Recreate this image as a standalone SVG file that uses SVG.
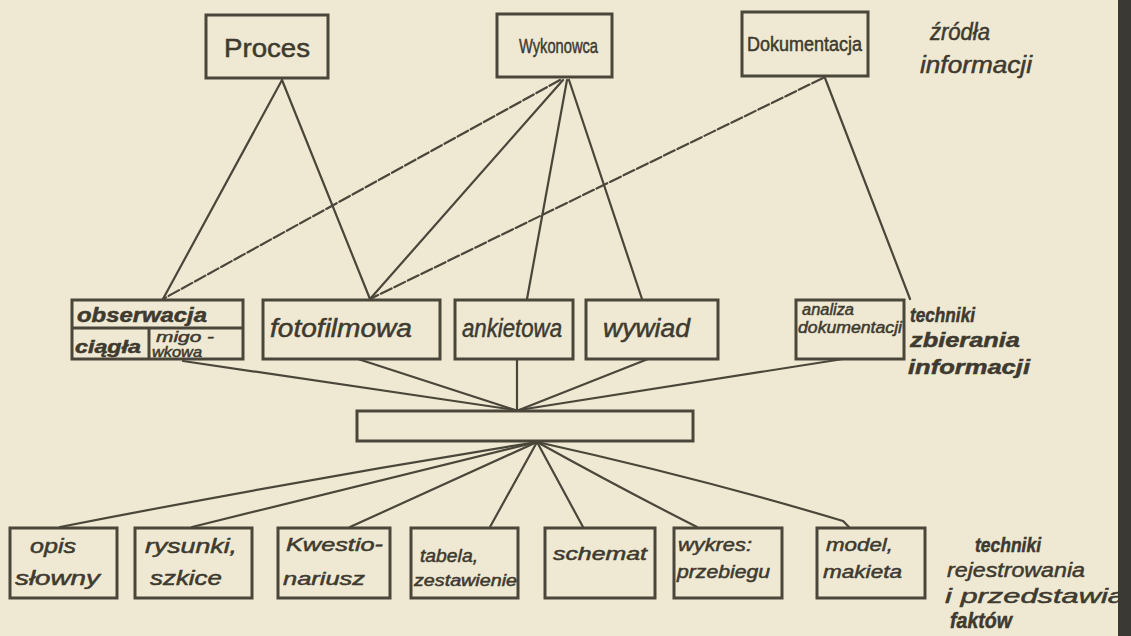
<svg xmlns="http://www.w3.org/2000/svg" width="1131" height="636" viewBox="0 0 1131 636">
<style>
.bg{fill:#efe9d3}
.box{fill:none;stroke:#4a463a;stroke-width:3}
.ln{fill:none;stroke:#4a463a;stroke-width:2.2;stroke-linecap:round}
.faint{stroke-dasharray:12 3}
text{font-family:"Liberation Sans","DejaVu Sans",sans-serif;fill:#3e3a2f;stroke:#3e3a2f;stroke-width:0.5}
.up{font-style:normal}
.it{font-style:italic}
</style>
<rect class="bg" x="0" y="0" width="1131" height="636"/>

<g id="connectors">
  <!-- top sources to collection techniques -->
  <line class="ln" x1="282" y1="80" x2="163" y2="299"/>
  <line class="ln" x1="282" y1="80" x2="370" y2="299"/>
  <line class="ln faint" x1="560" y1="80" x2="163" y2="299"/>
  <line class="ln" x1="563" y1="80" x2="370" y2="299"/>
  <line class="ln" x1="567" y1="80" x2="527" y2="299"/>
  <line class="ln" x1="569" y1="80" x2="642" y2="299"/>
  <line class="ln faint" x1="823" y1="78" x2="370" y2="299"/>
  <line class="ln" x1="825" y1="78" x2="910" y2="299"/>
  <!-- collection techniques to central box -->
  <line class="ln" x1="183" y1="361" x2="515" y2="410"/>
  <line class="ln" x1="358" y1="359" x2="515" y2="410"/>
  <line class="ln" x1="517" y1="359" x2="517" y2="410"/>
  <line class="ln" x1="648" y1="359" x2="519" y2="410"/>
  <line class="ln" x1="843" y1="359" x2="519" y2="410"/>
  <!-- central box to recording techniques -->
  <path class="ln" d="M537 442 Q300 480 60 527"/>
  <path class="ln" d="M537 442 Q360 485 192 527"/>
  <line class="ln" x1="537" y1="442" x2="350" y2="527"/>
  <line class="ln" x1="537" y1="442" x2="490" y2="527"/>
  <line class="ln" x1="537" y1="442" x2="583" y2="527"/>
  <path class="ln" d="M537 442 Q620 488 697 527"/>
  <path class="ln" d="M537 442 Q700 478 843 521 L849 527"/>
</g>

<g id="proces">
  <rect class="box" x="206" y="15" width="122" height="63"/>
  <text class="up" x="224" y="57" font-size="25" textLength="86" lengthAdjust="spacingAndGlyphs">Proces</text>
</g>
<g id="wykonowca">
  <rect class="box" x="497" y="14" width="115" height="63"/>
  <text class="up" x="519" y="53" font-size="21" textLength="79" lengthAdjust="spacingAndGlyphs">Wykonowca</text>
</g>
<g id="dokumentacja">
  <rect class="box" x="742" y="12" width="126" height="64"/>
  <text class="up" x="747" y="51" font-size="20" textLength="115" lengthAdjust="spacingAndGlyphs">Dokumentacja</text>
</g>
<g id="label-zrodla">
  <text class="it" x="930" y="40" font-size="23" textLength="60" lengthAdjust="spacingAndGlyphs">źródła</text>
  <text class="it" x="920" y="73" font-size="23" textLength="112" lengthAdjust="spacingAndGlyphs">informacji</text>
</g>

<g id="obserwacja">
  <rect class="box" x="72" y="300" width="171" height="59"/>
  <line class="box" x1="72" y1="328" x2="243" y2="328"/>
  <line class="box" x1="149" y1="328" x2="149" y2="359"/>
  <text class="it" x="77" y="322" font-size="20" font-weight="bold" textLength="130" lengthAdjust="spacingAndGlyphs">obserwacja</text>
  <text class="it" x="75" y="353" font-size="18" font-weight="bold" textLength="66" lengthAdjust="spacingAndGlyphs">ciągła</text>
  <text class="it" x="156" y="342" font-size="15" textLength="58" lengthAdjust="spacingAndGlyphs">migo -</text>
  <text class="it" x="152" y="357" font-size="14" textLength="50" lengthAdjust="spacingAndGlyphs">wkowa</text>
</g>
<g id="fotofilmowa">
  <rect class="box" x="263" y="300" width="177" height="59"/>
  <text class="it" x="270" y="337" font-size="25" textLength="142" lengthAdjust="spacingAndGlyphs">fotofilmowa</text>
</g>
<g id="ankietowa">
  <rect class="box" x="455" y="300" width="118" height="59"/>
  <text class="it" x="462" y="337" font-size="25" textLength="100" lengthAdjust="spacingAndGlyphs">ankietowa</text>
</g>
<g id="wywiad">
  <rect class="box" x="586" y="300" width="132" height="59"/>
  <text class="it" x="603" y="337" font-size="25" textLength="87" lengthAdjust="spacingAndGlyphs">wywiad</text>
</g>
<g id="analiza">
  <rect class="box" x="796" y="300" width="108" height="59"/>
  <text class="it" x="802" y="315" font-size="16" textLength="52" lengthAdjust="spacingAndGlyphs">analiza</text>
  <text class="it" x="798" y="333" font-size="16" textLength="104" lengthAdjust="spacingAndGlyphs">dokumentacji</text>
</g>
<g id="label-zbierania">
  <text class="it" x="910" y="322" font-size="21" font-weight="bold" textLength="65" lengthAdjust="spacingAndGlyphs">techniki</text>
  <text class="it" x="910" y="347" font-size="21" font-weight="bold" textLength="110" lengthAdjust="spacingAndGlyphs">zbierania</text>
  <text class="it" x="908" y="374" font-size="21" font-weight="bold" textLength="122" lengthAdjust="spacingAndGlyphs">informacji</text>
</g>

<g id="central">
  <rect class="box" x="357" y="411" width="336" height="30"/>
</g>

<g id="opis">
  <rect class="box" x="10" y="528" width="107" height="70"/>
  <text class="it" x="30" y="553" font-size="20" textLength="46" lengthAdjust="spacingAndGlyphs">opis</text>
  <text class="it" x="15" y="585" font-size="20" textLength="85" lengthAdjust="spacingAndGlyphs">słowny</text>
</g>
<g id="rysunki">
  <rect class="box" x="135" y="528" width="117" height="70"/>
  <text class="it" x="145" y="553" font-size="20" textLength="92" lengthAdjust="spacingAndGlyphs">rysunki,</text>
  <text class="it" x="150" y="585" font-size="20" textLength="72" lengthAdjust="spacingAndGlyphs">szkice</text>
</g>
<g id="kwestionariusz">
  <rect class="box" x="278" y="528" width="112" height="70"/>
  <text class="it" x="286" y="551" font-size="19" textLength="97" lengthAdjust="spacingAndGlyphs">Kwestio-</text>
  <text class="it" x="283" y="585" font-size="19" textLength="82" lengthAdjust="spacingAndGlyphs">nariusz</text>
</g>
<g id="tabela">
  <rect class="box" x="411" y="528" width="107" height="70"/>
  <text class="it" x="420" y="562" font-size="18" textLength="58" lengthAdjust="spacingAndGlyphs">tabela,</text>
  <text class="it" x="414" y="586" font-size="16" textLength="103" lengthAdjust="spacingAndGlyphs">zestawienie</text>
</g>
<g id="schemat">
  <rect class="box" x="545" y="528" width="110" height="70"/>
  <text class="it" x="553" y="560" font-size="18" textLength="94" lengthAdjust="spacingAndGlyphs">schemat</text>
</g>
<g id="wykres">
  <rect class="box" x="674" y="528" width="108" height="70"/>
  <text class="it" x="678" y="551" font-size="18" textLength="74" lengthAdjust="spacingAndGlyphs">wykres:</text>
  <text class="it" x="677" y="578" font-size="18" textLength="93" lengthAdjust="spacingAndGlyphs">przebiegu</text>
</g>
<g id="model">
  <rect class="box" x="817" y="528" width="108" height="70"/>
  <text class="it" x="826" y="551" font-size="19" textLength="67" lengthAdjust="spacingAndGlyphs">model,</text>
  <text class="it" x="823" y="578" font-size="19" textLength="79" lengthAdjust="spacingAndGlyphs">makieta</text>
</g>
<g id="label-rejestrowania">
  <text class="it" x="975" y="552" font-size="21" font-weight="bold" textLength="66" lengthAdjust="spacingAndGlyphs">techniki</text>
  <text class="it" x="947" y="577" font-size="21" textLength="138" lengthAdjust="spacingAndGlyphs">rejestrowania</text>
  <text class="it" x="945" y="603" font-size="21" textLength="180" lengthAdjust="spacingAndGlyphs">i przedstawia</text>
  <text class="it" x="950" y="628" font-size="22" font-weight="bold" textLength="62" lengthAdjust="spacingAndGlyphs">faktów</text>
</g>
<rect x="1118" y="0" width="13" height="636" fill="#3a3934"/>
</svg>
